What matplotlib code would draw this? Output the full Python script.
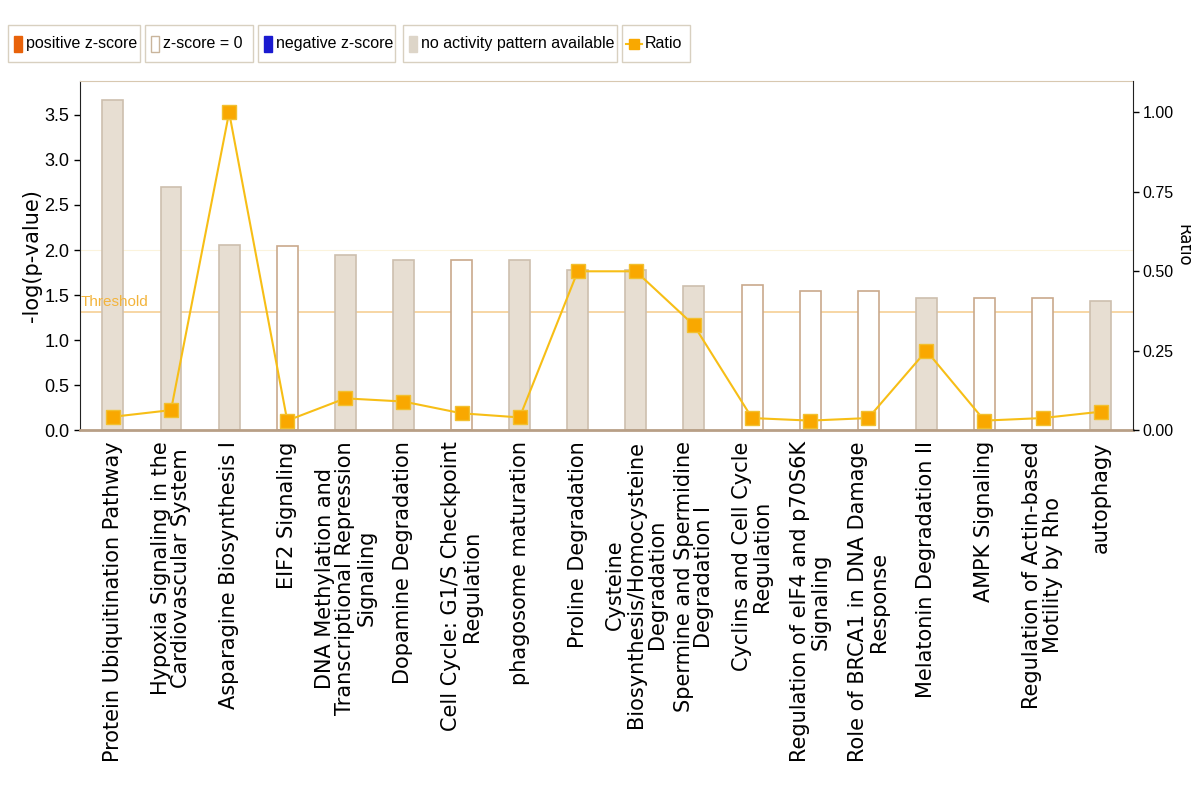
import matplotlib.pyplot as plt
from matplotlib.patches import Rectangle
from matplotlib.lines import Line2D

pathways = [
    'Protein Ubiquitination Pathway',
    'Hypoxia Signaling in the\nCardiovascular System',
    'Asparagine Biosynthesis I',
    'EIF2 Signaling',
    'DNA Methylation and\nTranscriptional Repression\nSignaling',
    'Dopamine Degradation',
    'Cell Cycle: G1/S Checkpoint\nRegulation',
    'phagosome maturation',
    'Proline Degradation',
    'Cysteine\nBiosynthesis/Homocysteine\nDegradation',
    'Spermine and Spermidine\nDegradation I',
    'Cyclins and Cell Cycle\nRegulation',
    'Regulation of eIF4 and p70S6K\nSignaling',
    'Role of BRCA1 in DNA Damage\nResponse',
    'Melatonin Degradation II',
    'AMPK Signaling',
    'Regulation of Actin-based\nMotility by Rho',
    'autophagy',
]
neg_log_p = [3.67, 2.70, 2.06, 2.04, 1.95, 1.89, 1.89, 1.89, 1.78,
             1.78, 1.60, 1.61, 1.55, 1.55, 1.47, 1.47, 1.47, 1.43]
ratio = [0.042, 0.063, 1.00, 0.030, 0.100, 0.090, 0.053, 0.040, 0.50,
         0.50, 0.33, 0.038, 0.030, 0.038, 0.25, 0.030, 0.038, 0.058]
# 'none' = no activity pattern available (grey), 'zero' = z-score = 0 (white)
activity = ['none', 'none', 'none', 'zero', 'none', 'none', 'zero', 'none', 'none',
            'none', 'none', 'zero', 'zero', 'zero', 'none', 'zero', 'zero', 'none']
threshold = 1.31

legend_labels = ['positive z-score', 'z-score = 0', 'negative z-score',
                 'no activity pattern available', 'Ratio']

grey_fill = '#e7ded2'
grey_edge = '#cdbfae'
white_edge = '#c9a98c'
ratio_line = '#f7be16'
ratio_mark = '#f9a800'
narrow = 'Liberation Sans'

fig = plt.figure(figsize=(11.91, 8.07), dpi=100)
ax = fig.add_axes([0.067, 0.467, 0.884, 0.433])

x = list(range(len(pathways)))
faces = [grey_fill if a == 'none' else 'white' for a in activity]
edges = [grey_edge if a == 'none' else white_edge for a in activity]
ax.bar(x, neg_log_p, width=0.36, color=faces, edgecolor=edges, linewidth=1.2, zorder=2)

ax.axhline(threshold, color='#f6cf95', linewidth=1.2, zorder=1)
ax.text(-0.55, threshold + 0.03, 'Threshold', color='#f3b43c', fontsize=11,
        family=narrow, ha='left', va='bottom', zorder=3)
ax.axhline(2.0, color='#fbf3dc', linewidth=0.8, zorder=0)

ax.set_xlim(-0.57, 17.55)
ax.set_ylim(0, 3.88)
ax.set_yticks([0, 0.5, 1.0, 1.5, 2.0, 2.5, 3.0, 3.5])
ax.set_yticklabels(['0.0', '0.5', '1.0', '1.5', '2.0', '2.5', '3.0', '3.5'],
                   family=narrow, fontsize=13)
ax.tick_params(axis='y', length=4, width=1)
ax.set_ylabel('-log(p-value)', fontsize=15)
ax.yaxis.set_label_coords(-0.036, 0.5)

ax.set_xticks(x)
ax.set_xticklabels(pathways, rotation=90, fontsize=15, ha='center', va='top',
                   multialignment='center', linespacing=1.05)
ax.tick_params(axis='x', length=0, pad=8)

ax.spines['top'].set_color('#d8c8b0')
ax.spines['bottom'].set_color('#b89f86')
ax.spines['bottom'].set_linewidth(2)
ax.spines['left'].set_color('#222222')
ax.spines['right'].set_visible(False)

ax2 = ax.twinx()
ax2.plot(x, ratio, color=ratio_line, linewidth=1.5, marker='s', markersize=9.5,
         markerfacecolor=ratio_mark, markeredgecolor='#f2c030', zorder=4)
ax2.set_ylim(0, 1.10)
ax2.set_yticks([0, 0.25, 0.5, 0.75, 1.0])
ax2.set_yticklabels(['0.00', '0.25', '0.50', '0.75', '1.00'], family=narrow, fontsize=11.5)
ax2.tick_params(axis='y', length=4, width=1, pad=3)
ax2.set_ylabel('Ratio', fontsize=12, rotation=270, va='center')
ax2.yaxis.set_label_coords(1.048, 0.53)
ax2.spines['right'].set_color('#222222')
ax2.spines['top'].set_visible(False)
ax2.spines['left'].set_visible(False)
ax2.spines['bottom'].set_visible(False)

# legend: one framed box per item, drawn in figure pixels like the original
W, H = 1191, 807
box_x = [8, 145, 258, 403, 622]
box_w = [132, 108, 137, 214, 68]
box_top, box_h = 25, 37
swatches = ['#e8620a', 'white', '#1a1ad0', '#ddd5c8', None]
swatch_edges = ['#e8620a', '#c9b59c', '#1a1ad0', '#ddd5c8', None]
yc = 1 - (box_top + box_h / 2) / H
for bx, bw, lab, sc, se in zip(box_x, box_w, legend_labels, swatches, swatch_edges):
    fig.add_artist(Rectangle((bx / W, 1 - (box_top + box_h) / H), bw / W, box_h / H,
                             transform=fig.transFigure, facecolor='white',
                             edgecolor='#d8d0c0', linewidth=1))
    if sc is not None:
        fig.add_artist(Rectangle(((bx + 6) / W, yc - 8 / H), 8 / W, 16 / H,
                                 transform=fig.transFigure, facecolor=sc,
                                 edgecolor=se, linewidth=1))
        tx = bx + 18
    else:
        fig.add_artist(Line2D([(bx + 4) / W, (bx + 20) / W], [yc, yc],
                              transform=fig.transFigure, color=ratio_line, linewidth=1.5))
        fig.add_artist(Line2D([(bx + 12) / W], [yc], transform=fig.transFigure,
                              marker='s', markersize=7, color=ratio_mark))
        tx = bx + 23
    fig.text(tx / W, yc, lab, family=narrow, fontsize=11.5, ha='left', va='center')

fig.savefig('out.png', dpi=100)
